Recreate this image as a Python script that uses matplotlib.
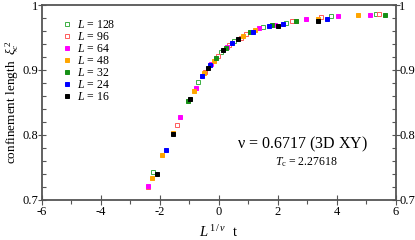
import matplotlib.pyplot as plt
from matplotlib.ticker import MultipleLocator

plt.rcParams['font.family'] = ['Liberation Serif', 'DejaVu Serif']
plt.rcParams['mathtext.fontset'] = 'custom'
plt.rcParams['mathtext.rm'] = 'Liberation Serif'
plt.rcParams['mathtext.it'] = 'Liberation Serif:italic'

# data: x = L^(1/nu) t, y = confinement length
sizes = [128, 96, 64, 48, 32, 24, 16]
colors = ['#3cb043', '#ff5a5a', '#ff00ff', '#ffa500', '#169016', '#0000ff', '#000000']
filled = [False, False, True, True, True, True, True]

x128 = [-2.23, -0.70, 0.06, 0.52, 1.48, 2.29, 3.80, 5.31]
y128 = [0.743, 0.882, 0.927, 0.944, 0.966, 0.973, 0.983, 0.986]
x96 = [-2.42, -1.43, -0.47, -0.04, 0.35, 0.74, 0.92, 2.48, 3.46, 5.43]
y96 = [0.720, 0.816, 0.897, 0.921, 0.938, 0.950, 0.955, 0.975, 0.981, 0.986]
x64 = [-2.42, -1.32, -0.79, -0.26, 0.28, 1.35, 1.90, 2.96, 4.03, 5.11]
y64 = [0.721, 0.828, 0.873, 0.910, 0.936, 0.964, 0.970, 0.978, 0.983, 0.985]
x48 = [-2.26, -1.92, -1.57, -0.86, -0.52, -0.18, 0.82, 1.23, 2.60, 3.35, 4.72]
y48 = [0.734, 0.769, 0.803, 0.868, 0.895, 0.914, 0.952, 0.962, 0.975, 0.979, 0.984]
x32 = [-1.04, -0.11, 0.24, 1.06, 1.81, 2.62, 5.64]
y32 = [0.852, 0.919, 0.934, 0.958, 0.969, 0.975, 0.985]
x24 = [-1.81, -0.57, -0.31, 0.43, 1.16, 1.69, 2.18, 3.67]
y24 = [0.777, 0.891, 0.907, 0.941, 0.959, 0.968, 0.971, 0.979]
x16 = [-2.09, -1.57, -0.99, -0.38, 0.15, 0.65, 2.01, 3.37]
y16 = [0.740, 0.802, 0.855, 0.903, 0.931, 0.948, 0.968, 0.976]

xs = [x128, x96, x64, x48, x32, x24, x16]
ys = [y128, y96, y64, y48, y32, y24, y16]

fig = plt.figure(figsize=(4.15, 2.4), dpi=100)
ax = fig.add_axes([0.101, 0.167, 0.853, 0.812])

for L, c, f, x, y in zip(sizes, colors, filled, xs, ys):
    ax.plot(x, y, 's', ms=2.4, mec=c, mew=0.7,
            mfc=c if f else 'white', label=r'$L$ = %d' % L)

ax.set_xlim(-6, 6)
ax.set_ylim(0.7, 1.0)
ax.xaxis.set_minor_locator(MultipleLocator(1))
ax.yaxis.set_minor_locator(MultipleLocator(0.02))
ax.set_xticks([-6, -4, -2, 0, 2, 4, 6])
ax.set_xticklabels(['-6', '-4', '-2', '0', '2', '4', '6'])
ax.set_yticks([0.7, 0.8, 0.9, 1.0])
ax.set_yticklabels(['0.7', '0.8', '0.9', '1'])

ax.tick_params(axis='x', which='major', direction='inout', length=7, width=0.8,
               labelsize=9, pad=1, color='#555555')
ax.tick_params(axis='x', which='minor', direction='out', length=3, width=0.8, color='#555555')
ax.tick_params(axis='y', which='major', direction='inout', length=6, width=0.8,
               labelsize=9, pad=-0.5, right=True, labelright=True, color='#555555')
ax.tick_params(axis='y', which='minor', direction='in', length=3, width=0.8,
               right=True, color='#555555')
for s in ax.spines.values():
    s.set_color('#555555')
    s.set_linewidth(1.3)

ax.set_ylabel(r'confinement length  $\xi_c^{\,2}$', fontsize=9.5, labelpad=1)
ax.set_xlabel(r'$L^{\,1\,/\,\nu}$  t', fontsize=10.5, labelpad=4)

ax.text(0.552, 0.287, r'$\mathrm{\nu}$ = 0.6717 (3D XY)', transform=ax.transAxes,
        fontsize=11.5, va='center', ha='left')
ax.text(0.658, 0.195, r'$T_{\rm c}$ = 2.27618', transform=ax.transAxes,
        fontsize=8.5, va='center', ha='left')

ax.legend(loc='upper left', bbox_to_anchor=(0.035, 0.975), frameon=False, fontsize=8.5,
          handlelength=0.5, handletextpad=0.6, labelspacing=0.0, borderpad=0.3)

fig.savefig('out.png', dpi=100)
